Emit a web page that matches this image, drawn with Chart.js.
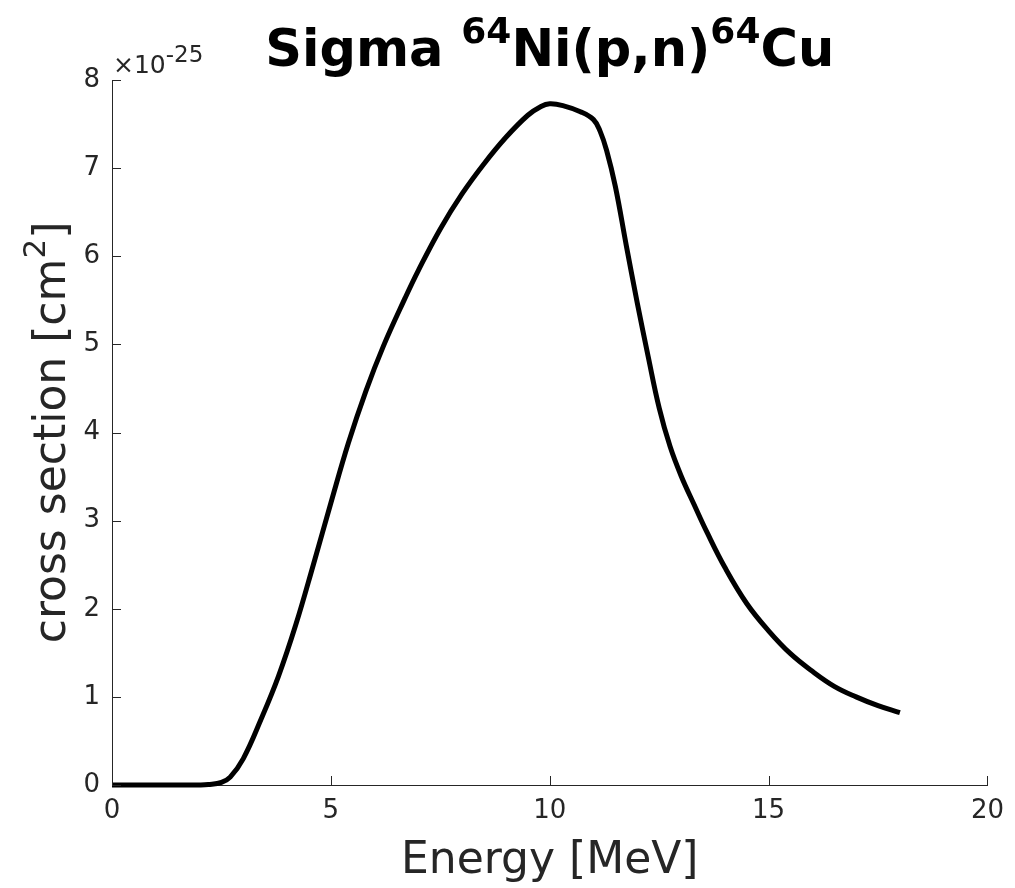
<!DOCTYPE html>
<html>
<head>
<meta charset="utf-8">
<script src="https://cdn.jsdelivr.net/npm/chart.js@4.4.0/dist/chart.umd.min.js"></script>
<style>
  html, body { margin: 0; padding: 0; background: #fff; }
  #wrap { width: 1015px; height: 888px; }
</style>
</head>
<body>
<div id="wrap"><canvas id="sigmaChart" width="1015" height="888"></canvas></div>
<script>
// proton energy [MeV]
const energy = [0, 0.5, 1, 1.5, 2, 2.2, 2.5, 2.7, 3, 3.4, 3.8, 4.2, 4.6, 5, 5.4, 5.8, 6.2, 6.7, 7,
  7.5, 8, 8.5, 9, 9.5, 9.8, 10, 10.3, 10.7, 11, 11.15, 11.3, 11.5, 11.75, 12, 12.25, 12.5, 12.75,
  13, 13.3, 13.6, 14, 14.5, 15, 15.5, 16, 16.5, 17, 17.5, 18];
// cross section, in units of 1e-25 cm^2
const sigma = [0, 0, 0, 0, 0, 0.005, 0.03, 0.09, 0.3, 0.74, 1.23, 1.82, 2.5, 3.2, 3.88, 4.47, 4.98, 5.53, 5.84,
  6.31, 6.71, 7.05, 7.35, 7.6, 7.7, 7.73, 7.71, 7.64, 7.55, 7.42, 7.2, 6.79, 6.12, 5.47, 4.86, 4.28, 3.84,
  3.51, 3.18, 2.86, 2.47, 2.06, 1.75, 1.49, 1.29, 1.12, 1.0, 0.9, 0.82];
const xTicks = [0, 5, 10, 15, 20];
const yTicks = [0, 1, 2, 3, 4, 5, 6, 7, 8];

const axisColor = '#262626';
const font = 'DejaVu Sans';

// draws text made of normal / superscript pieces
function drawParts(ctx, parts, size, weight, x, y, align, supScale, rise) {
  supScale = supScale || 0.7;
  rise = rise || 0.45;
  const supSize = Math.round(size * supScale);
  let total = 0;
  parts.forEach(p => {
    ctx.font = weight + ' ' + (p.sup ? supSize : size) + 'px "' + font + '"';
    p.w = ctx.measureText(p.t).width;
    total += p.w;
  });
  let cx = align === 'center' ? x - total / 2 : x;
  ctx.textAlign = 'left';
  ctx.textBaseline = 'alphabetic';
  parts.forEach(p => {
    ctx.font = weight + ' ' + (p.sup ? supSize : size) + 'px "' + font + '"';
    ctx.fillText(p.t, cx, p.sup ? y - size * rise : y);
    cx += p.w;
  });
}

const decorations = {
  id: 'decorations',
  afterDraw(chart) {
    const ctx = chart.ctx;
    const xs = chart.scales.x, ys = chart.scales.y;
    const area = chart.chartArea;
    ctx.save();
    // inward ticks
    ctx.strokeStyle = axisColor;
    ctx.lineWidth = 1;
    ctx.beginPath();
    xTicks.forEach(v => {
      const px = Math.round(xs.getPixelForValue(v)) + 0.5;
      ctx.moveTo(px, area.bottom);
      ctx.lineTo(px, area.bottom - 9);
    });
    yTicks.forEach(v => {
      const py = Math.round(ys.getPixelForValue(v)) + 0.5;
      ctx.moveTo(area.left, py);
      ctx.lineTo(area.left + 9, py);
    });
    ctx.stroke();

    // title
    ctx.fillStyle = '#000';
    drawParts(ctx, [
      { t: 'Sigma ' }, { t: '64', sup: true }, { t: 'Ni(p,n)' }, { t: '64', sup: true }, { t: 'Cu' }
    ], 51, 'bold', (area.left + area.right) / 2, 66, 'center');

    // exponent
    ctx.fillStyle = axisColor;
    drawParts(ctx, [{ t: '\u00d710' }, { t: '-25', sup: true }], 25, 'normal', area.left + 1, 73, 'left', 0.9, 0.45);

    // x axis title
    drawParts(ctx, [{ t: 'Energy [MeV]' }], 44, 'normal', (area.left + area.right) / 2, 873, 'center');

    // y axis title
    ctx.translate(65, (area.top + area.bottom) / 2);
    ctx.rotate(-Math.PI / 2);
    drawParts(ctx, [{ t: 'cross section [cm' }, { t: '2', sup: true }, { t: ']' }], 44, 'normal', 0, 0, 'center');
    ctx.restore();
  }
};

new Chart(document.getElementById('sigmaChart'), {
  type: 'scatter',
  data: {
    datasets: [{
      data: energy.map((e, i) => ({ x: e, y: sigma[i] })),
      showLine: true,
      borderColor: '#000',
      borderWidth: 5,
      pointRadius: 0,
      tension: 0.4,
      borderJoinStyle: 'round',
      borderCapStyle: 'butt',
      clip: false
    }]
  },
  options: {
    responsive: false,
    animation: false,
    layout: { padding: { top: 80, right: 24, left: 0, bottom: 0 } },
    plugins: { legend: { display: false }, tooltip: { enabled: false } },
    scales: {
      x: {
        type: 'linear', min: 0, max: 20,
        afterFit(s) { s.height = 103; },
        afterBuildTicks(s) { s.ticks = xTicks.map(v => ({ value: v })); },
        grid: { display: false, drawTicks: false },
        border: { display: true, color: axisColor, width: 1 },
        ticks: { color: axisColor, padding: 11, font: { family: font, size: 26 }, maxRotation: 0 }
      },
      y: {
        type: 'linear', min: 0, max: 8,
        afterFit(s) { s.width = 112; },
        afterBuildTicks(s) { s.ticks = yTicks.map(v => ({ value: v })); },
        grid: { display: false, drawTicks: false },
        border: { display: true, color: axisColor, width: 1 },
        ticks: { color: axisColor, padding: 12, font: { family: font, size: 26 } }
      }
    }
  },
  plugins: [decorations]
});
</script>
</body>
</html>
